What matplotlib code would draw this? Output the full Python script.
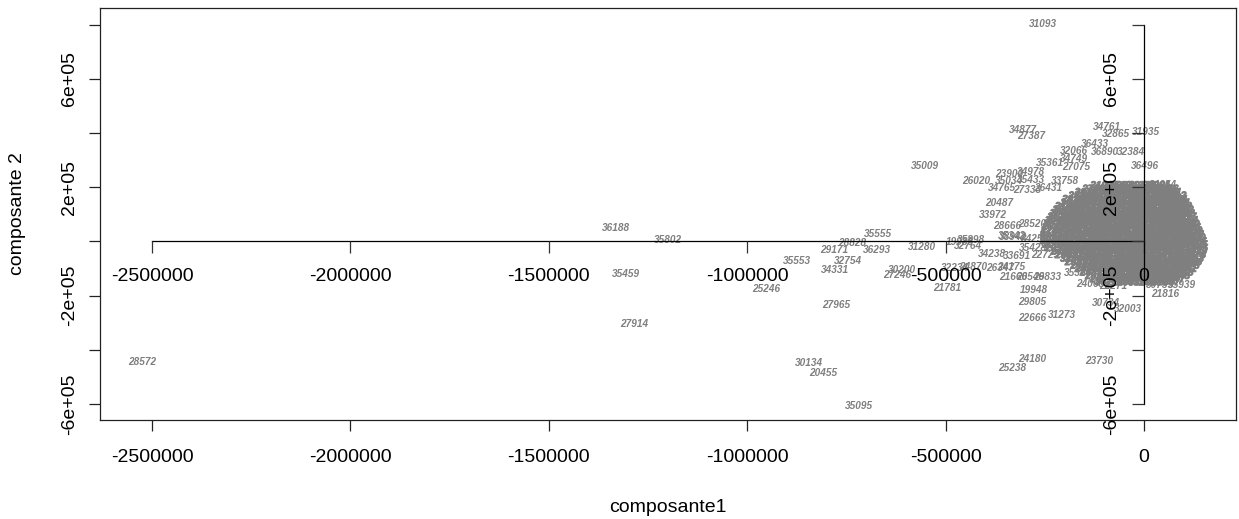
import numpy as np
import matplotlib
matplotlib.use("Agg")
import matplotlib.pyplot as plt
import matplotlib.patheffects as pe

plt.rcParams['font.family'] = ['Liberation Sans', 'DejaVu Sans']

# labelled individuals (composante1, composante 2)
ids = ["31093", "28572", "36188", "35802", "35459", "27914", "35555", "28828",
       "29171", "36293", "31280", "35553", "32754", "34331", "30200", "27246",
       "25246", "27965", "30134", "20455", "35095", "34877", "27387", "34761",
       "32865", "31935", "36433", "32066", "36890", "32384", "34749", "35361",
       "27075", "36496", "35009", "23900", "34978", "26020", "35034", "35433",
       "34765", "27333", "26431", "33758", "20487", "33972", "28666", "28520",
       "35342", "38942", "34252", "35898", "19988", "32764", "34238", "33691",
       "35428", "22725", "32234", "24870", "26347", "24175", "21666", "20546",
       "29833", "21781", "19948", "29805", "22666", "31273", "30734", "32003",
       "21816", "24180", "25238", "23730", "35364", "24068", "22271", "30739",
       "35939", "34054", "36099", "26454"]
comp1 = [-254500, -2525000, -1330600, -1199500, -1305400, -1285200, -670300, -735800,
         -781200, -672800, -559400, -874400, -745900, -778700, -609800, -622400,
         -952600, -776200, -844200, -808900, -718200, -304900, -284800, -93200,
         -70600, 5000, -123500, -176400, -98300, -32800, -176400, -236900,
         -171000, 2500, -551900, -340200, -284800, -423400, -340200, -284800,
         -357800, -294800, -241000, -199000, -365400, -380500, -345200, -282200,
         -332600, -330000, -274000, -436000, -464000, -444000, -383000, -320000,
         -279000, -249000, -476300, -430900, -362900, -335000, -330100, -287000,
         -244000, -496000, -277200, -282200, -282200, -206600, -95800, -40300,
         52900, -282200, -332600, -113400, -166300, -136000, -78100, 40000,
         95800, 47900, 40000, 75600]
comp2 = [803000, -444900, 49800, 5500, -120000, -304600, 27700, -5500,
         -31400, -31400, -20300, -72000, -72000, -105200, -105200, -123700,
         -175400, -234400, -448600, -485500, -607300, 411700, 389500, 422700,
         396900, 404300, 360000, 334100, 330400, 330400, 304600, 289800,
         275000, 278700, 278700, 249200, 256600, 223400, 223400, 227000,
         197500, 190100, 197500, 223400, 142100, 97800, 57200, 64500,
         20300, 16600, 9200, 5500, -1800, -16600, -46200, -53500,
         -24000, -49800, -97800, -94100, -97800, -94100, -131100, -131100,
         -131100, -173000, -179100, -223400, -282400, -271400, -227100, -249200,
         -193800, -433800, -467000, -441200, -116300, -157000, -164300, -160600,
         -160600, 208600, 186000, 112600]

# dense cloud of overlapping labels near the origin, estimated row by row (thousands)
cloud_y = [208, 183, 157, 131, 105, 79, 54, 28, 2, -24, -50, -76, -101, -127, -150,
           195, 170, 144, 118, 92, 66, 41, 15, -11, -37, -63, -89, -114, -139]
cloud_x = [[-100, -68, -35, -3, 32],
           [-139, -110, -80, -50, -20, 10, 38, 60],
           [-171, -140, -110, -80, -50, -20, 10, 42, 76],
           [-189, -158, -127, -96, -65, -34, -3, 28, 58, 86],
           [-202, -172, -142, -112, -82, -52, -22, 8, 38, 66, 93],
           [-214, -183, -152, -121, -90, -59, -28, 3, 34, 65, 101],
           [-222, -192, -162, -132, -102, -72, -42, -12, 18, 48, 78, 108],
           [-227, -196, -165, -134, -103, -72, -41, -10, 21, 52, 83, 116],
           [-227, -197, -167, -137, -107, -77, -47, -17, 13, 43, 73, 100, 123],
           [-214, -183, -152, -121, -90, -59, -28, 3, 34, 65, 96, 126],
           [-189, -159, -129, -99, -69, -39, -9, 21, 51, 81, 121],
           [-164, -133, -102, -71, -40, -9, 22, 53, 84, 111],
           [-139, -109, -79, -49, -19, 11, 41, 71, 98],
           [-113, -84, -55, -26, 3, 32, 61, 81],
           [-88, -60, -32, -4, 24, 55],
           [-120, -90, -60, -30, 0, 30, 52],
           [-155, -125, -95, -65, -35, -5, 25, 55, 72],
           [-175, -142, -112, -82, -52, -22, 8, 38, 68, 82],
           [-195, -157, -127, -97, -67, -37, -7, 23, 53, 80, 90],
           [-208, -168, -137, -106, -75, -44, -13, 18, 49, 80, 97],
           [-218, -177, -147, -117, -87, -57, -27, 3, 33, 63, 93, 105],
           [-225, -181, -150, -119, -88, -57, -26, 5, 36, 67, 98, 112],
           [-226, -182, -152, -122, -92, -62, -32, -2, 28, 58, 88, 112, 120],
           [-220, -168, -137, -106, -75, -44, -13, 18, 49, 80, 111, 125],
           [-200, -144, -114, -84, -54, -24, 6, 36, 66, 96, 124],
           [-176, -118, -87, -56, -25, 6, 37, 68, 98, 116],
           [-150, -94, -64, -34, -4, 26, 56, 86, 105],
           [-126, -70, -41, -12, 17, 46, 76, 90],
           [-100, -46, -18, 10, 40, 68]]
cloud_ids = ["21034", "33518", "26712", "30455", "24981", "36107", "29360", "22847",
             "31692", "27203", "35876", "20519", "33041", "28164", "25730", "32398",
             "19872", "34625", "23309", "30987", "26548", "36721", "21495", "29012",
             "35233", "24406", "31857", "27689", "33960", "22158", "28831", "34470",
             "20943", "32576", "25817", "30241", "36385", "23672", "29548", "35019"]

# axes ticks
xticks = [-2500000, -2000000, -1500000, -1000000, -500000, 0]
yticks = [-600000, -400000, -200000, 0, 200000, 400000, 600000, 800000]
ylabs = ["-6e+05", "", "-2e+05", "", "2e+05", "", "6e+05", ""]

fig = plt.figure(figsize=(12.39, 5.19), dpi=100)
ax = fig.add_axes([100/1239, 1-420/519, 1136/1239, 412/519])
ax.set_xlim(-2631000, 231800)
ax.set_ylim(-659000, 862000)

gray = '#7f7f7f'
for s, x, y in zip(ids, comp1, comp2):
    ax.text(x, y, s, ha='center', va='center', fontsize=7.2, color=gray,
            fontweight='bold', style='italic')

# the cloud: many labels piled on top of each other (thin stroke to fill it in)
k = 0
for y, row in zip(cloud_y, cloud_x):
    for x in row:
        ax.text(x*1000, y*1000, cloud_ids[k % len(cloud_ids)], ha='center', va='center',
                fontsize=7.2, color=gray, fontweight='bold', style='italic',
                path_effects=[pe.withStroke(linewidth=0.6, foreground=gray)])
        k += 1

# outer box axes
for sp in ax.spines.values():
    sp.set_linewidth(0.9)
    sp.set_color('#222222')
ax.set_xticks(xticks)
ax.set_xticklabels([str(v) for v in xticks])
ax.set_yticks(yticks)
ax.set_yticklabels(ylabs, rotation=90, va='center')
ax.tick_params(axis='x', length=8, width=0.9, pad=13, labelsize=14, color='#222222')
ax.tick_params(axis='y', length=8, width=0.9, pad=8, labelsize=14, color='#222222')

# axes drawn through the origin, on top of the labels
ax.plot([xticks[0], xticks[-1]], [0, 0], color='black', lw=0.9, zorder=5)
ax.plot(xticks, [0]*len(xticks), ls='none', marker=3, ms=8.5, mew=0.9,
        color='#333333', zorder=5)
for v in xticks:
    ax.annotate(str(v), (v, 0), xytext=(0, -25.5), textcoords='offset points',
                ha='center', va='center', fontsize=14, zorder=6)
ax.plot([0, 0], [yticks[0], yticks[-1]], color='black', lw=0.9, zorder=5)
ax.plot([0]*len(yticks), yticks, ls='none', marker=0, ms=8.5, mew=0.9,
        color='#333333', zorder=5)
for v, s in zip(yticks, ylabs):
    if s:
        ax.annotate(s, (0, v), xytext=(-23.5, 0), textcoords='offset points',
                    ha='center', va='center', fontsize=14, rotation=90, zorder=6)

fig.text(668/1239, 1-507/519, 'composante1', ha='center', va='center', fontsize=14)
fig.text(18/1239, 1-214/519, 'composante 2', ha='center', va='center', fontsize=14,
         rotation=90)

fig.savefig('out.png', dpi=100)
